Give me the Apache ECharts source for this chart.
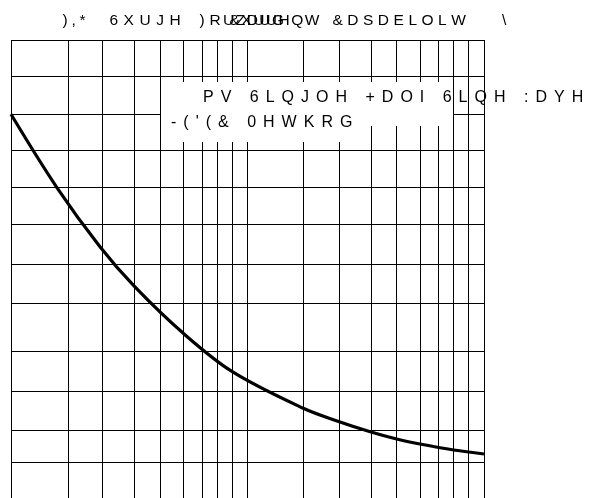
<!DOCTYPE html>
<html>
<head>
<meta charset="utf-8">
<script src="https://cdn.jsdelivr.net/npm/echarts@6/dist/echarts.min.js"></script>
<style>
html,body{margin:0;padding:0;background:#fff;}
#chart{width:602px;height:498px;}
</style>
</head>
<body>
<div id="chart"></div>
<script>
// ---- data ----
const xGridLines = [1, 1.737, 2.432, 3.334, 4.266, 5.352, 6.44, 7.454, 8.626, 10, 17.21, 24.44, 33.29, 42.73, 53.62, 64.34, 74.45, 86.16, 100];
const yGridLines = [7.7, 14.85, 23.2, 32.1, 42.5, 51.0, 59.76, 67.9, 75.83, 83.78, 92.0, 100];
const cycles  = [1, 1.561, 2.378, 3.334, 5.352, 8.626, 17.21, 24.44, 33.29, 42.73, 53.62, 74.45, 100];
const current = [83.78, 67.84, 54.87, 46.14, 35.96, 27.58, 19.59, 16.66, 14.41, 12.88, 11.79, 10.48, 9.61];
const titlePieces = ['),*', '6XUJH', ')R', 'UZDUG', '&XUUHQW', '&DSDELOLW', '\\'];
const legendLines = ['PV 6LQJOH +DOI 6LQH :DYH', "-('(& 0HWKRG"];

// letter-spacing support for canvas text (spacing encoded in a dummy font family)
(function(){
  const P = CanvasRenderingContext2D.prototype;
  const of = P.fillText;
  P.fillText = function(t, x, y, mw){
    const m = /sp-([\d.]+)/.exec(this.font);
    if (!m || typeof t !== 'string' || t.length < 2) return of.apply(this, arguments);
    const s = parseFloat(m[1]);
    const al = this.textAlign;
    this.textAlign = 'left';
    let cx = x;
    for (const ch of t) { of.call(this, ch, cx, y); cx += this.measureText(ch).width + s; }
    this.textAlign = al;
  };
})();

function font(size, sp){ return size + 'px "Liberation Sans", "sp-' + sp + '", Arial, sans-serif'; }

const titleLayout = [[62.5, 3.8], [109.5, 5.5], [199.5, 4.8], [223, 1.5], [229.5, 1.5], [332.5, 4.5], [502, 0]];
const legendLayout = [[203, 97.5], [171, 122.5]];

const graphics = [
  {type:'rect', z:50, shape:{x:161, y:82, width:292, height:44}, style:{fill:'#fff'}, silent:true},
  {type:'rect', z:50, shape:{x:161, y:82, width:190, height:60}, style:{fill:'#fff'}, silent:true}
];
titlePieces.forEach((t, i) => {
  graphics.push({type:'text', z:60, x:titleLayout[i][0], y:20.5,
    style:{text:t, font:font(15.5, titleLayout[i][1]), fill:'#000', textAlign:'left', align:'left', textVerticalAlign:'middle', verticalAlign:'middle'}});
});
legendLines.forEach((t, i) => {
  graphics.push({type:'text', z:60, x:legendLayout[i][0], y:legendLayout[i][1],
    style:{text:t, font:font(16, 7), fill:'#000', textAlign:'left', align:'left', textVerticalAlign:'middle', verticalAlign:'middle'}});
});

const chart = echarts.init(document.getElementById('chart'), null, {renderer:'canvas'});
chart.setOption({
  animation:false,
  backgroundColor:'#fff',
  grid:{left:11, right:118, top:40, bottom:0, containLabel:false},
  xAxis:{type:'log', logBase:10, min:1, max:100,
    axisLine:{show:false}, axisTick:{show:false}, axisLabel:{show:false}, splitLine:{show:false}},
  yAxis:{type:'value', min:0, max:100,
    axisLine:{show:false}, axisTick:{show:false}, axisLabel:{show:false}, splitLine:{show:false}},
  graphic:graphics,
  series:[
    {type:'line', data:[], z:1, silent:true,
      markLine:{silent:true, symbol:['none','none'], label:{show:false}, animation:false,
        lineStyle:{color:'#000', width:1, type:'solid'},
        data: xGridLines.map(v => ({xAxis:v})).concat(yGridLines.map(v => ({yAxis:v})))}},
    {type:'line', z:5, data: cycles.map((c, i) => [c, current[i]]),
      smooth:0.35, showSymbol:false, symbol:'none',
      lineStyle:{color:'#000', width:3.2}, clip:false}
  ]
});
</script>
</body>
</html>
